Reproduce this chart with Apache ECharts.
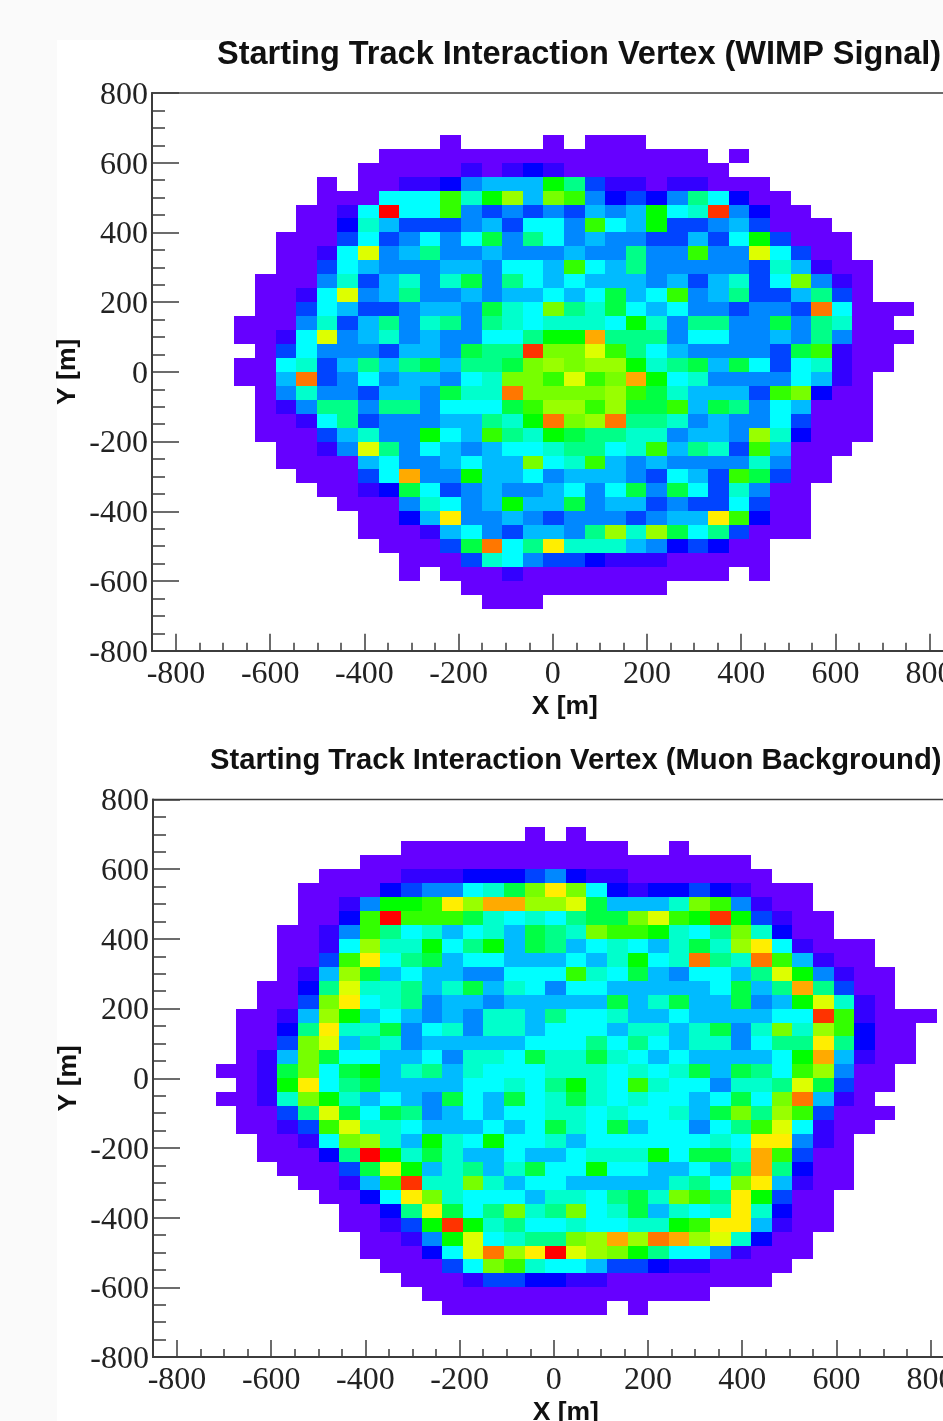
<!DOCTYPE html>
<html>
<head>
<meta charset="utf-8">
<style>
html,body{margin:0;padding:0;background:#fafafa;width:943px;height:1421px;overflow:hidden}
#sheet{position:absolute;left:57px;top:40px;width:886px;height:1381px;background:#fff}
#chart{position:absolute;left:0;top:0;width:943px;height:1421px}
</style>
<script src="https://cdn.jsdelivr.net/npm/echarts@6/dist/echarts.min.js"></script>
</head>
<body>
<div id="sheet"></div>
<div id="chart"></div>
<script>
// Colour level of each cell: a = lowest level ... t = highest level, "." = empty bin.
const levelColors = ['#6600ff','#3300ff','#0000ff','#0044ff','#0088ff','#00bbff','#00ffff','#00ffcc','#00ff88','#00ff44','#00ff00','#33ff00','#77ff00','#99ff00','#ddff00','#ffee00','#ffaa00','#ff7700','#ff3300','#ff0000'];

const xMajorTicks = [-800,-600,-400,-200,0,200,400,600,800];
const xMinorTicks = [-750,-700,-650,-550,-500,-450,-350,-300,-250,-150,-100,-50,50,100,150,250,300,350,450,500,550,650,700,750];

const xBinWidth = 43.74;
const yBinWidth = 40;

const wimpFirstX = -676;
const wimpTopY = 680;
const wimpStarts = [10,7,6,4,4,3,3,2,2,2,1,1,1,0,0,1,0,0,1,1,1,1,2,2,3,4,5,6,6,7,8,8,11,12];
const wimpRows = [
"a....a.aaa",
"aaaaaaaaaaaaaaaa.a",
"aaaaababcbaaaaaaaa",
"a.aabbcefffkidbbabbaaa",
"aaaggglhknfmlecdceigcaa",
"aabgtggledededfefkghsecaa",
"aachfdddefdggelgfkddefdaaa",
"aaadgdegegjeigefeeddfdgkdaaa",
"aabgoefieefeeefeeieeleeogdaa",
"aadgfeeeffeggflgfieeeeedhfbaa",
"aaaehdfhehjeigfgfffefdfhdgmeba",
"aabgoefieefeffgfgjfglefiddfida",
"aadgfddeffejhgmihjgfgeedeedrgaaa",
"aaaehdfiehieihghhhgkheiieejeihaa",
"aabgoefhefeeggikkqiiieggeefeieaaa",
"adgeeedffejiismmoligfeeeedjlbaa",
"aaghdfifijfiijmnmnnkhijfjgdghbaa",
"aafrdegeffeghmmlolmqkgheeeegfba",
"aeheedffejhhrmmmmnljhfffdlmcaa",
"abeiieiiegggjlnnlnjjlfjiegfaaa",
"aabgideeeffihkrmnriihefeegdaaa",
"aaadfheekgflihkjiihheffenhcaaa",
"aabeoiegfefgghiighlfihdlfaaa",
"aaaafgeefgffmghlfefeeeeheaa",
"aaadgqeekffgefffedgfdljdaa",
"aabcjgdefeefgegjejgdheaa",
"aaaehgefkffjeffdeddgdaa",
"aacfpeefedeeedeffplcaa",
"aaabfgedffeinhnjgidaaa",
"aaadjrgiphhhfecdcaa",
"aaadhgeddcbbbaaaaa",
"a.aaabaaaaaaaaaa.a",
"aaaaaaaaaa",
"aaa"
];

const muonFirstX = -718;
const muonTopY = 720;
const muonStarts = [15,9,7,5,4,4,4,3,3,3,3,2,2,1,1,1,1,0,1,0,1,1,2,2,3,4,5,6,6,7,7,8,9,10,11];
const muonRows = [
"a.a",
"aaaaaaaaaaa..a",
"aaaaaaaaaaaaaaaaaaa",
"aaaabbbcccdecbbaaaaaaa",
"aaaacdeeghjmpmgcbccdcbaaa",
"aabekklpnqqnnojfffhmlebaa",
"aacltllljhghgijjmolkskdbaa",
"aabelighfghfjihmllkhgimhcaa",
"aabgnhhkgikfjifghgfhjhnpgbaaa",
"aadlpgijfggfffgfhkghrihrlfbaa",
"abfnjfgffeeggglhgjfeggfiokebaa",
"aaciohhifhjfhgeggfffffgjfiqidaa",
"aadmpghieffefffffjfhjffjefkohba",
"aabfnkfgfefehhfigghffgffffggslbaaa",
"aaciphhjeghehhfgggfhhfhjehmhnlcaa",
"aadmofihefffffgggigigfhhegiipicaa",
"abfmjggffgehhgjhhjhgfgffffgkqfbaa",
"aabjmgjkfhifhggghhhghghjfjiglneaa",
"abkpgijffffgghgikhglhggehhiojdaa",
"aabhmkhfgfejgfjghjhghggfgjgmrfba",
"aadiojgjiefgfgghhghgghfjminldaaa",
"aabdlohhgfffgfgjhgjfggegilogbaa",
"aabgmnhfkhgkgghfgggggghgppeba",
"aaacitkhjhffgffghhhkgjjhqldaa",
"aaadjpkfhifhjggkggffgfiqicaa",
"aabflshhmhfggfffffhigmpfbaa",
"aacgpmhgggfhhgijhmlipkdaa",
"aacipjgimhimghjfhghphcaa",
"aabdkskhigghgghhklppfbaa",
"aabekoghiimnqnrqnohcaa",
"aaacgornptonmkiggebaaa",
"aaadgmlhggfddcbbaaaa",
"aaabddccbbaaaaaaaa",
"aaaaaaaaaaaaaa",
"aaaaaaaa.a"
];

function buildCells(starts, rows, firstX, topY) {
  const cells = [];
  rows.forEach(function (row, r) {
    for (let i = 0; i < row.length; i++) {
      if (row[i] === '.') continue;
      const c = starts[r] + i;
      cells.push([firstX + c * xBinWidth, firstX + (c + 1) * xBinWidth,
                  topY - (r + 1) * yBinWidth, topY - r * yBinWidth,
                  row.charCodeAt(i) - 97]);
    }
  });
  return cells;
}

function renderCell(params, api) {
  const a = api.coord([api.value(0), api.value(3)]);
  const b = api.coord([api.value(1), api.value(2)]);
  const x = Math.round(a[0]), y = Math.round(a[1]);
  return {
    type: 'rect',
    shape: { x: x, y: y, width: Math.round(b[0]) - x, height: Math.round(b[1]) - y },
    style: { fill: levelColors[api.value(4)] }
  };
}

const inkColor = '#3c3c3c';
const tickFont = { fontFamily: '"Liberation Serif", serif', fontSize: 32, color: '#222' };
const nameFont = { fontFamily: '"Liberation Sans", sans-serif', fontWeight: 'bold', fontSize: 26.5, color: '#111' };

function xAxes(gridIndex) {
  return [
    { type: 'value', gridIndex: gridIndex, min: -851, max: 851, position: 'bottom',
      name: 'X [m]', nameLocation: 'middle', nameGap: 42,
      nameTextStyle: Object.assign({ padding: [0, 0, 0, 24] }, nameFont),
      axisLine: { show: true, onZero: false, lineStyle: { color: inkColor, width: 2 } },
      axisTick: { show: true, inside: true, length: 17, customValues: xMajorTicks, lineStyle: { color: inkColor, width: 1.5 } },
      axisLabel: Object.assign({ show: true, margin: 8, customValues: xMajorTicks, hideOverlap: false, showMinLabel: true, showMaxLabel: true }, tickFont),
      splitLine: { show: false } },
    { type: 'value', gridIndex: gridIndex, min: -851, max: 851, position: 'bottom',
      axisLine: { show: false, onZero: false },
      axisTick: { show: true, inside: true, length: 8, customValues: xMinorTicks, lineStyle: { color: inkColor, width: 1.5 } },
      axisLabel: { show: false },
      splitLine: { show: false } }
  ];
}

function yAxis(gridIndex) {
  return { type: 'value', gridIndex: gridIndex, min: -800, max: 800, interval: 200,
    name: 'Y [m]', nameLocation: 'middle', nameGap: 71, nameRotate: 90, nameMoveOverlap: false, nameTextStyle: nameFont,
    axisLine: { show: true, onZero: false, lineStyle: { color: inkColor, width: 2 } },
    axisTick: { show: true, inside: true, length: 27, lineStyle: { color: inkColor, width: 1.5 } },
    minorTick: { show: true, splitNumber: 4, length: 13, lineStyle: { color: inkColor, width: 1.5 } },
    axisLabel: { margin: 4, showMinLabel: true, showMaxLabel: true,
      formatter: '{n|{value}}',
      rich: { n: Object.assign({ padding: [5, 0, 0, 0] }, tickFont) } },
    splitLine: { show: false } };
}

const titleFont = { fontFamily: '"Liberation Sans", sans-serif', fontWeight: 'bold', color: '#111' };

const chart = echarts.init(document.getElementById('chart'), null, { renderer: 'canvas' });
chart.setOption({
  animation: false,
  backgroundColor: 'transparent',
  title: [
    { text: 'Starting Track Interaction Vertex (WIMP Signal)', left: 217, top: 39, padding: 0,
      textStyle: Object.assign({ fontSize: 32.5 }, titleFont) },
    { text: 'Starting Track Interaction Vertex (Muon Background)', left: 210, top: 746, padding: 0,
      textStyle: Object.assign({ fontSize: 29.2 }, titleFont) }
  ],
  grid: [
    { left: 152, top: 93, width: 801.6, height: 557.7, outerBoundsMode: 'none', show: true, borderColor: inkColor, borderWidth: 1.5, backgroundColor: '#fff' },
    { left: 153, top: 799.5, width: 801.6, height: 557.5, outerBoundsMode: 'none', show: true, borderColor: inkColor, borderWidth: 1.5, backgroundColor: '#fff' }
  ],
  xAxis: xAxes(0).concat(xAxes(1)),
  yAxis: [yAxis(0), yAxis(1)],
  series: [
    { name: 'WIMP Signal', type: 'custom', xAxisIndex: 0, yAxisIndex: 0, renderItem: renderCell,
      encode: { x: [0, 1], y: [2, 3] }, data: buildCells(wimpStarts, wimpRows, wimpFirstX, wimpTopY), silent: true },
    { name: 'Muon Background', type: 'custom', xAxisIndex: 2, yAxisIndex: 1, renderItem: renderCell,
      encode: { x: [0, 1], y: [2, 3] }, data: buildCells(muonStarts, muonRows, muonFirstX, muonTopY), silent: true }
  ]
});
</script>
</body>
</html>
